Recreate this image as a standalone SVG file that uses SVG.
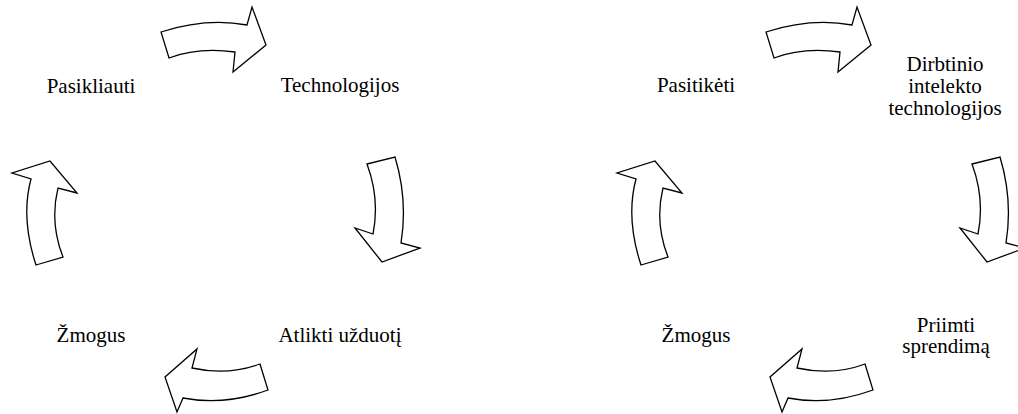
<svg xmlns="http://www.w3.org/2000/svg" width="1018" height="414" viewBox="0 0 1018 414">
<style>
.arr{fill:#fff;stroke:#000;stroke-width:1.3;stroke-linejoin:miter}
</style>
<defs>
<g id="cycle">
<path class="arr" d="M161,32 Q206,17.5 247,25 L252,7 L266,45 L233,72 L235,52 Q198,47 169,58 Z"/>
<path class="arr" d="M367,164 L395,157 Q408,200 401,243 L420,248 L382,262 L355,228 L373,234 Q380,199 367,164 Z"/>
<path class="arr" d="M260,364 L268,390 Q224.5,406 183,398 L177,412 L165,377 L197,349 L192,368 Q228,376 260,364 Z"/>
<path class="arr" d="M36,265 L63,257 Q49.5,222.5 58,188 L77,193 L50,161 L12,173 L31,179 Q20.5,218 36,265 Z"/>
</g>
</defs>
<g id="connectors">
<use href="#cycle"/>
<use href="#cycle" transform="translate(605,0)"/>
</g>
<g font-family="Liberation Serif, serif" font-size="21" fill="#000" text-anchor="middle">
<g id="n-pasikliauti"><text x="91" y="93">Pasikliauti</text></g>
<g id="n-technologijos"><text x="340" y="92">Technologijos</text></g>
<g id="n-atlikti"><text x="340" y="342">Atlikti užduotį</text></g>
<g id="n-zmogus1"><text x="91" y="342">Žmogus</text></g>
<g id="n-pasitiketi"><text x="696" y="92">Pasitikėti</text></g>
<g id="n-di"><text x="945" y="71">Dirbtinio</text><text x="945" y="93">intelekto</text><text x="945" y="115">technologijos</text></g>
<g id="n-priimti"><text x="946" y="332">Priimti</text><text x="946" y="353">sprendimą</text></g>
<g id="n-zmogus2"><text x="696" y="342">Žmogus</text></g>
</g>
</svg>
